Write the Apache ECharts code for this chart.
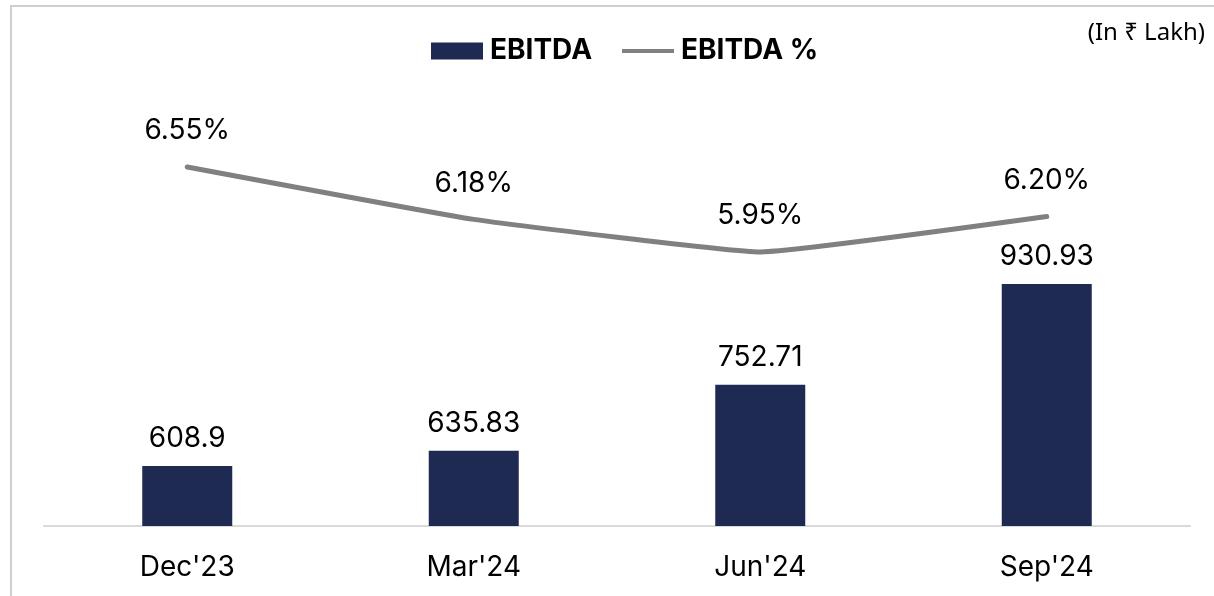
<!DOCTYPE html>
<html>
<head>
<meta charset="utf-8">
<script src="https://cdn.jsdelivr.net/npm/echarts@6/dist/echarts.min.js"></script>
<style>
  html, body { margin: 0; padding: 0; background: #fff; }
  #chart { width: 1214px; height: 596px; }
</style>
</head>
<body>
<div id="chart"></div>
<script>
// 数据
const categories = ["Dec'23", "Mar'24", "Jun'24", "Sep'24"]
const ebitda = [608.9, 635.83, 752.71, 930.93]
const ebitdaPct = [6.55, 6.18, 5.95, 6.20]

const chart = echarts.init(document.getElementById('chart'))

const labelFont = 'Inter, "Noto Sans", sans-serif'

const option = {
  animation: false,
  grid: { left: 44, right: 24, top: 21, bottom: 70 },
  legend: {
    top: 32,
    left: 426,
    itemGap: 30,
    itemWidth: 52,
    itemHeight: 17,
    textStyle: { fontFamily: labelFont, fontWeight: 'bold', fontSize: 28, color: '#000', padding: [0, 0, 0, 2] },
    data: [
      { name: 'EBITDA', icon: 'rect' },
      { name: 'EBITDA %', icon: 'path://M0,0 L52,0 L52,4 L0,4 Z', itemStyle: { color: '#808080' } }
    ]
  },
  graphic: [
    {
      type: 'rect',
      shape: { x: 11, y: 6, width: 1220, height: 600 },
      style: { fill: 'none', stroke: '#cfcfcf', lineWidth: 2 }
    },
    {
      type: 'text',
      right: 9,
      top: 21,
      style: { text: '(In ₹ Lakh)', font: '24px "Noto Sans", sans-serif', fill: '#000' }
    }
  ],
  xAxis: {
    type: 'category',
    data: categories,
    axisLine: { lineStyle: { color: '#d9d9d9', width: 2 } },
    axisTick: { show: false },
    axisLabel: { fontFamily: labelFont, fontSize: 28, color: '#000', margin: 28 }
  },
  yAxis: [
    { type: 'value', min: 502.7, max: 1396.3, show: false, splitLine: { show: false } },
    { type: 'value', min: 4.016, max: 7.58, show: false, splitLine: { show: false } }
  ],
  series: [
    {
      name: 'EBITDA',
      type: 'bar',
      data: ebitda,
      barWidth: 90,
      itemStyle: { color: '#1f2a52' },
      label: {
        show: true,
        position: 'top',
        distance: 13,
        fontFamily: labelFont,
        fontSize: 28,
        color: '#000'
      }
    },
    {
      name: 'EBITDA %',
      type: 'line',
      yAxisIndex: 1,
      data: ebitdaPct,
      smooth: 0.1,
      symbol: 'circle',
      symbolSize: 0,
      lineStyle: { color: '#808080', width: 5, cap: 'round' },
      itemStyle: { color: '#808080' },
      label: {
        show: true,
        position: 'top',
        distance: 22,
        fontFamily: labelFont,
        fontSize: 28,
        color: '#000',
        formatter: p => p.value.toFixed(2) + '%'
      }
    }
  ]
}

chart.setOption(option)
</script>
</body>
</html>
